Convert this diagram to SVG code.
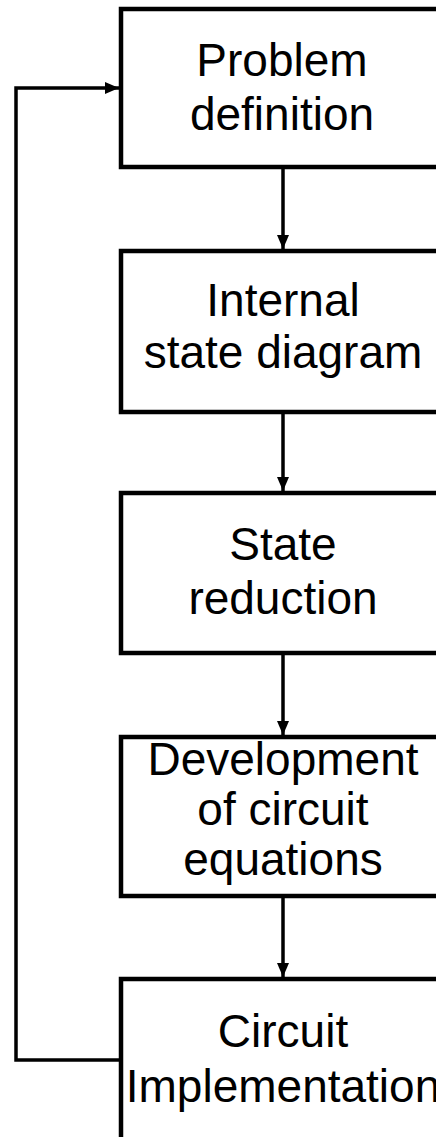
<svg xmlns="http://www.w3.org/2000/svg" width="436" height="1137" viewBox="0 0 436 1137">
  <style>
    .box { fill: #ffffff; stroke: #000000; stroke-width: 4.5; }
    .label { font-family: "Liberation Sans", Arial, sans-serif; font-size: 46px; fill: #000000; text-anchor: middle; }
    .wire { fill: none; stroke: #000000; stroke-width: 3.5; }
  </style>
  <defs>
    <marker id="arrow" viewBox="0 0 14 12" refX="14" refY="6" markerWidth="14" markerHeight="12" markerUnits="userSpaceOnUse" orient="auto">
      <path d="M0,0 L14,6 L0,12 Z" fill="#000000"/>
    </marker>
  </defs>
  <rect width="436" height="1137" fill="#ffffff"/>

  <g id="connectors">
    <line class="wire" x1="283" y1="167" x2="283" y2="249" marker-end="url(#arrow)"/>
    <line class="wire" x1="283" y1="412" x2="283" y2="491" marker-end="url(#arrow)"/>
    <line class="wire" x1="283" y1="653" x2="283" y2="735" marker-end="url(#arrow)"/>
    <line class="wire" x1="283" y1="896" x2="283" y2="977" marker-end="url(#arrow)"/>
    <polyline class="wire" points="121,1060 16,1060 16,88 119,88" marker-end="url(#arrow)"/>
  </g>

  <g id="problem-definition">
    <rect class="box" x="121" y="9" width="340" height="158"/>
    <text class="label" x="282" y="76">Problem</text>
    <text class="label" x="282" y="130">definition</text>
  </g>

  <g id="internal-state-diagram">
    <rect class="box" x="121" y="251" width="340" height="161"/>
    <text class="label" x="283" y="316">Internal</text>
    <text class="label" x="283" y="368">state diagram</text>
  </g>

  <g id="state-reduction">
    <rect class="box" x="121" y="493" width="340" height="160"/>
    <text class="label" x="283" y="560">State</text>
    <text class="label" x="283" y="614">reduction</text>
  </g>

  <g id="circuit-equations">
    <rect class="box" x="121" y="737" width="340" height="159"/>
    <text class="label" x="283" y="775">Development</text>
    <text class="label" x="283" y="825">of circuit</text>
    <text class="label" x="283" y="875">equations</text>
  </g>

  <g id="circuit-implementation">
    <rect class="box" x="121" y="979" width="340" height="200"/>
    <text class="label" x="283" y="1047">Circuit</text>
    <text class="label" x="283" y="1102">Implementation</text>
  </g>
</svg>
